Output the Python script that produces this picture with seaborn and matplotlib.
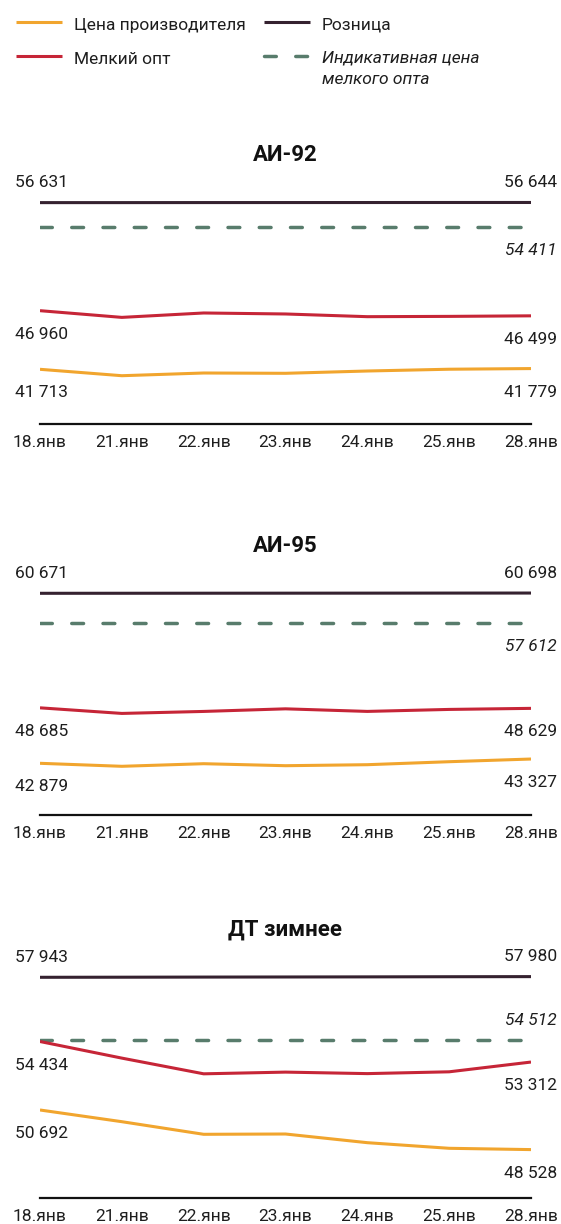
import numpy as np
import matplotlib.pyplot as plt
import seaborn as sns
from matplotlib.lines import Line2D

# ---- data -------------------------------------------------------------
dates = ["18.янв", "21.янв", "22.янв", "23.янв", "24.янв", "25.янв", "28.янв"]
fuels = ["АИ-92", "АИ-95", "ДТ зимнее"]

producer_92 = [41713, 41140, 41382, 41355, 41561, 41720, 41779]
small_opt_92 = [46960, 46360, 46754, 46665, 46423, 46450, 46499]
retail_92 = [56631, 56632, 56636, 56638, 56640, 56643, 56644]
indicative_92 = [54411, 54411, 54411, 54411, 54411, 54411, 54411]

producer_95 = [42879, 42565, 42837, 42628, 42733, 43046, 43327]
small_opt_95 = [48685, 48099, 48308, 48580, 48310, 48518, 48629]
retail_95 = [60671, 60675, 60680, 60684, 60688, 60694, 60698]
indicative_95 = [57612, 57612, 57612, 57612, 57612, 57612, 57612]

producer_dt = [50692, 50053, 49364, 49380, 48906, 48599, 48528]
small_opt_dt = [54434, 53527, 52669, 52762, 52680, 52779, 53312]
retail_dt = [57943, 57948, 57955, 57960, 57966, 57974, 57980]
indicative_dt = [54512, 54512, 54512, 54512, 54512, 54512, 54512]

series_names = ["Цена производителя", "Мелкий опт", "Розница", "Индикативная цена\nмелкого опта"]

panels = [
    {"producer": producer_92, "small": small_opt_92, "retail": retail_92, "ind": indicative_92},
    {"producer": producer_95, "small": small_opt_95, "retail": retail_95, "ind": indicative_95},
    {"producer": producer_dt, "small": small_opt_dt, "retail": retail_dt, "ind": indicative_dt},
]

# ---- style ------------------------------------------------------------
colors = {"producer": "#F1A52E", "small": "#C62537", "retail": "#35212F", "ind": "#587C6C"}
text_color = "#1E1E1E"

sns.set_theme(style="white")
plt.rcParams["font.family"] = ["Roboto", "DejaVu Sans"]

W, H = 561, 1224
fig = plt.figure(figsize=(W / 100, H / 100), dpi=100)

# axes placement in pixels (left, right, bottom of each panel, height)
left_px, right_px = 40, 531
bottoms_px = [424.3, 815.3, 1198.3]
height_px = 240
ylims = [(36791, 58271), (37437, 62555), (45867, 58981)]

# where the first / last value labels go: above or below the line
label_pos = [
    {"retail": ("above", "above"), "ind": (None, "below"), "small": ("below", "below"), "producer": ("below", "below")},
    {"retail": ("above", "above"), "ind": (None, "below"), "small": ("below", "below"), "producer": ("below", "below")},
    {"retail": ("above", "above"), "ind": (None, "above"), "small": ("below", "below"), "producer": ("below", "below")},
]

fs = 12.5
x = np.arange(len(dates))


def fmt(v):
    return f"{v:,}".replace(",", " ")


def put_label(ax, xi, v, side, where, italic=False):
    dy = 15.5 if where == "above" else -28
    if side == "left":
        dx, ha = -25, "left"
    else:
        dx, ha = 26, "right"
    ax.annotate(fmt(v), xy=(xi, v), xytext=(dx, dy), textcoords="offset pixels",
                ha=ha, va="baseline", fontsize=fs, color=text_color,
                style="italic" if italic else "normal", annotation_clip=False)


for i, (data, fuel) in enumerate(zip(panels, fuels)):
    b = bottoms_px[i]
    ax = fig.add_axes([left_px / W, 1 - b / H, (right_px - left_px) / W, height_px / H])

    for key in ["ind", "producer", "small", "retail"]:
        sns.lineplot(x=x, y=data[key], ax=ax, color=colors[key], linewidth=2.2, legend=False)
        line = ax.lines[-1]
        if key == "ind":
            line.set_linewidth(2.5)
            line.set_linestyle((0, (3.4, 5.6)))
            line.set_dash_capstyle("round")
        else:
            line.set_solid_capstyle("butt")

        lp, rp = label_pos[i][key]
        if lp:
            put_label(ax, x[0], data[key][0], "left", lp, italic=(key == "ind"))
        if rp:
            put_label(ax, x[-1], data[key][-1], "right", rp, italic=(key == "ind"))

    ax.set_xlim(0, len(dates) - 1)
    ax.set_ylim(*ylims[i])
    ax.set_xticks(x)
    ax.set_xticklabels(dates, fontsize=fs, color=text_color)
    ax.set_yticks([])
    ax.set_xlabel("")
    ax.set_ylabel("")
    ax.tick_params(axis="x", length=0, pad=7.5)
    for s in ["top", "left", "right"]:
        ax.spines[s].set_visible(False)
    ax.spines["bottom"].set_color("#111111")
    ax.spines["bottom"].set_linewidth(1.6)
    ax.set_title(fuel, fontsize=16, fontweight="bold", color="#111111", pad=16.5)

# ---- legend (two columns at the top) -------------------------------------
# (key, line x0, line x1, line y, text x, baseline y of the last text line) in pixels
legend_items = [
    ("producer", 16, 62, 22.3, 73.5, 30),
    ("small", 16, 62, 55.5, 73.5, 64),
    ("retail", 264, 310, 22.3, 321.5, 30),
    ("ind", 264, 310, 55.5, 321.5, 84),
]
for (key, x0, x1, y, tx, ty), name in zip(legend_items, series_names):
    ln = Line2D([x0 / W, x1 / W], [1 - y / H, 1 - y / H], transform=fig.transFigure,
                color=colors[key], linewidth=2.2 if key != "ind" else 2.5)
    if key == "ind":
        ln.set_linestyle((0, (3.4, 5.6)))
        ln.set_dash_capstyle("round")
    else:
        ln.set_solid_capstyle("butt")
    fig.add_artist(ln)
    fig.text(tx / W, 1 - ty / H, name, ha="left", va="baseline",
             fontsize=fs, color=text_color, style="italic" if key == "ind" else "normal",
             linespacing=1.55)

fig.savefig("out.png", dpi=100)
